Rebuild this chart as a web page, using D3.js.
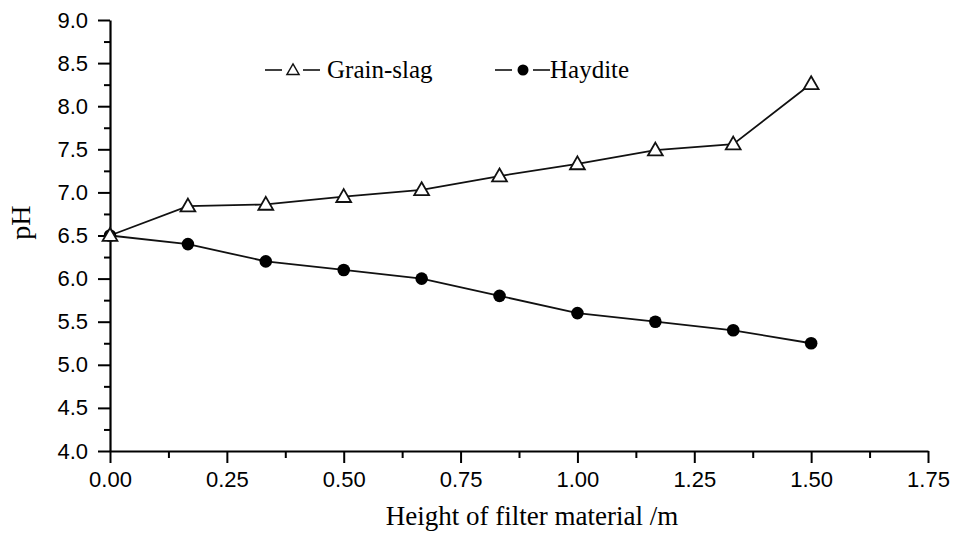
<!DOCTYPE html>
<html>
<head>
<meta charset="utf-8">
<script src="https://cdn.jsdelivr.net/npm/d3@7"></script>
<style>
    body { margin: 0; background: #fff; }
    .tick text { font-family: "Liberation Sans", Arial, sans-serif; }
</style>
</head>
<body>
<div id="chart"></div>
<script>
    // filter height (m)
    const heights = [0, 0.1667, 0.3333, 0.5, 0.6667, 0.8333, 1.0, 1.1667, 1.3333, 1.5];
    // pH values
    const grainSlag = [6.5, 6.84, 6.86, 6.95, 7.03, 7.19, 7.33, 7.49, 7.56, 8.26];
    const haydite = [6.5, 6.4, 6.2, 6.1, 6.0, 5.8, 5.6, 5.5, 5.4, 5.25];

    const xTicks = [0, 0.25, 0.5, 0.75, 1.0, 1.25, 1.5, 1.75];
    const yTicks = [4.0, 4.5, 5.0, 5.5, 6.0, 6.5, 7.0, 7.5, 8.0, 8.5, 9.0];

    const W = 954, H = 533;
    const margin = { top: 20, right: 26, bottom: 82, left: 110 };
    const width = W - margin.left - margin.right;
    const height = H - margin.top - margin.bottom;

    const svg = d3.select('#chart')
        .append('svg')
        .attr('width', W)
        .attr('height', H)
        .append('g')
        .attr('transform', `translate(${margin.left}, ${margin.top})`);

    const x = d3.scaleLinear().domain([0, 1.75]).range([0, width]);
    const y = d3.scaleLinear().domain([4, 9]).range([height, 0]);

    // minor ticks first, then major ones on top
    const xMinor = d3.range(0.125, 1.75, 0.25);
    const yMinor = d3.range(4.25, 9, 0.5);

    svg.append('g')
        .attr('transform', `translate(0, ${height})`)
        .call(d3.axisBottom(x).tickValues(xMinor).tickSize(7).tickFormat(''))
        .call(g => g.select('.domain').remove())
        .selectAll('line').attr('stroke-width', 2);

    svg.append('g')
        .call(d3.axisLeft(y).tickValues(yMinor).tickSize(6).tickFormat(''))
        .call(g => g.select('.domain').remove())
        .selectAll('line').attr('stroke-width', 2);

    const xAxis = svg.append('g')
        .attr('transform', `translate(0, ${height})`)
        .call(d3.axisBottom(x).tickValues(xTicks).tickSizeInner(12).tickSizeOuter(0).tickPadding(8)
            .tickFormat(d3.format('.2f')));
    xAxis.select('.domain').attr('stroke-width', 2.2);
    xAxis.selectAll('line').attr('stroke-width', 2);
    xAxis.selectAll('text').attr('font-size', 22).attr('fill', '#000');

    const yAxis = svg.append('g')
        .call(d3.axisLeft(y).tickValues(yTicks).tickSizeInner(12).tickSizeOuter(0).tickPadding(10)
            .tickFormat(d3.format('.1f')));
    yAxis.select('.domain').attr('stroke-width', 2.2);
    yAxis.selectAll('line').attr('stroke-width', 2);
    yAxis.selectAll('text').attr('font-size', 22).attr('fill', '#000');

    // axis titles
    svg.append('text')
        .attr('x', width / 2 + 13)
        .attr('y', height + 74)
        .attr('text-anchor', 'middle')
        .attr('font-family', '"Liberation Serif", "Times New Roman", serif')
        .attr('font-size', 27)
        .attr('fill', '#000')
        .text('Height of filter material /m');

    svg.append('text')
        .attr('transform', `translate(${-80}, ${y(6.65)}) rotate(-90)`)
        .attr('text-anchor', 'middle')
        .attr('font-family', '"Liberation Serif", "Times New Roman", serif')
        .attr('font-size', 28)
        .attr('fill', '#000')
        .text('pH');

    const grainData = heights.map((h, i) => ({ h: h, v: grainSlag[i] }));
    const haydData = heights.map((h, i) => ({ h: h, v: haydite[i] }));

    const line = d3.line().x(d => x(d.h)).y(d => y(d.v));

    svg.append('path')
        .datum(haydData)
        .attr('fill', 'none')
        .attr('stroke', '#111')
        .attr('stroke-width', 1.8)
        .attr('d', line);

    svg.append('path')
        .datum(grainData)
        .attr('fill', 'none')
        .attr('stroke', '#111')
        .attr('stroke-width', 1.8)
        .attr('d', line);

    const tri = d3.symbol().type(d3.symbolTriangle).size(95);

    svg.selectAll('.hayd')
        .data(haydData)
        .enter()
        .append('circle')
        .attr('class', 'hayd')
        .attr('cx', d => x(d.h))
        .attr('cy', d => y(d.v))
        .attr('r', 6.3)
        .attr('fill', '#000');

    svg.selectAll('.grain')
        .data(grainData)
        .enter()
        .append('path')
        .attr('class', 'grain')
        .attr('transform', d => `translate(${x(d.h)}, ${y(d.v) + 1})`)
        .attr('d', tri)
        .attr('fill', '#fff')
        .attr('stroke', '#111')
        .attr('stroke-width', 1.8);

    // legend
    const legendY = 50;
    const legend = svg.append('g').attr('transform', `translate(0, ${legendY})`);
    const series = [
        { name: 'Grain-slag', x0: 155, gap: 7 },
        { name: 'Haydite', x0: 385, gap: 0 }
    ];
    series.forEach((s, i) => {
        const g = legend.append('g').attr('transform', `translate(${s.x0}, 0)`);
        g.append('line').attr('x1', 0).attr('x2', 17).attr('stroke', '#111').attr('stroke-width', 1.6);
        g.append('line').attr('x1', 38).attr('x2', 55).attr('stroke', '#111').attr('stroke-width', 1.6);
        if (i === 0) {
            g.append('path').attr('transform', 'translate(28, 1)').attr('d', d3.symbol().type(d3.symbolTriangle).size(65))
                .attr('fill', '#fff').attr('stroke', '#111').attr('stroke-width', 1.4);
        } else {
            g.append('circle').attr('cx', 28).attr('r', 5.5).attr('fill', '#000');
        }
        g.append('text')
            .attr('x', 55 + s.gap)
            .attr('y', 8)
            .attr('font-family', '"Liberation Serif", "Times New Roman", serif')
            .attr('font-size', 25)
            .attr('fill', '#000')
            .text(s.name);
    });
</script>
</body>
</html>
